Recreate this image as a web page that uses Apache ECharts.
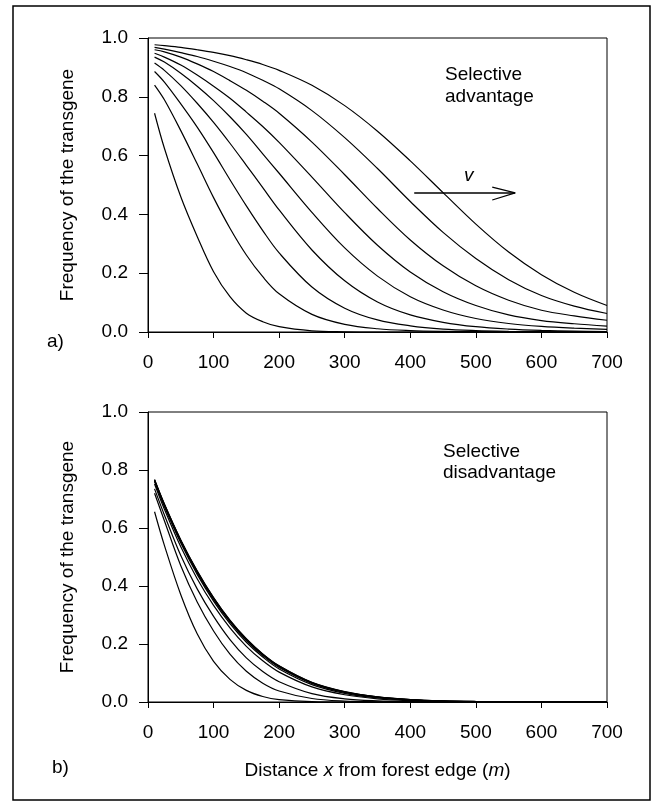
<!DOCTYPE html>
<html>
<head>
<meta charset="utf-8">
<script src="https://cdn.jsdelivr.net/npm/echarts@6/dist/echarts.min.js"></script>
<style>
html,body{margin:0;padding:0;background:#fff;}
#chart{width:654px;height:807px;}
</style>
</head>
<body>
<div id="chart"></div>
<script>
// Distance samples (m)
const distances = [10,25,50,75,100,125,150,175,200,250,300,350,400,450,500,550,600,650,700];
const xTicks = [0,100,200,300,400,500,600,700];
const yTicks = [0.0,0.2,0.4,0.6,0.8,1.0];

// a) Selective advantage – transgene frequency profiles (earliest to latest)
const advI = [0.744,0.625,0.460,0.325,0.205,0.120,0.064,0.035,0.018,0.004,0.0008,0,0,0,0,0,0,0,0];
const advH = [0.840,0.790,0.685,0.572,0.457,0.353,0.262,0.188,0.130,0.060,0.026,0.011,0.0047,0.002,0.001,0.0004,0.0002,0.0001,0];
const advG = [0.886,0.850,0.776,0.697,0.610,0.518,0.429,0.345,0.269,0.153,0.081,0.041,0.021,0.010,0.005,0.0025,0.0012,0.0006,0.0003];
const advF = [0.915,0.890,0.838,0.778,0.713,0.642,0.567,0.491,0.415,0.279,0.174,0.102,0.058,0.033,0.018,0.010,0.0055,0.003,0.0016];
const advE = [0.935,0.918,0.880,0.836,0.787,0.732,0.672,0.606,0.540,0.407,0.286,0.190,0.120,0.075,0.046,0.029,0.019,0.013,0.009];
const advD = [0.948,0.935,0.908,0.874,0.836,0.795,0.748,0.699,0.645,0.527,0.406,0.295,0.204,0.137,0.090,0.058,0.039,0.028,0.020];
const advC = [0.960,0.953,0.935,0.912,0.886,0.855,0.822,0.785,0.744,0.646,0.535,0.420,0.313,0.225,0.157,0.108,0.074,0.055,0.040];
const advB = [0.968,0.962,0.950,0.937,0.921,0.903,0.882,0.856,0.827,0.753,0.661,0.556,0.444,0.339,0.250,0.178,0.124,0.088,0.063];
const advA = [0.977,0.974,0.968,0.960,0.951,0.940,0.926,0.910,0.890,0.839,0.770,0.683,0.582,0.474,0.367,0.272,0.195,0.135,0.090];

// b) Selective disadvantage – transgene frequency profiles (earliest to latest)
const disB1 = [0.656,0.540,0.370,0.235,0.140,0.078,0.040,0.019,0.008,0.001,0,0,0,0,0,0,0,0,0];
const disB2 = [0.720,0.625,0.470,0.345,0.245,0.165,0.106,0.065,0.038,0.012,0.003,0.0008,0,0,0,0,0,0,0];
const disB3 = [0.735,0.645,0.505,0.390,0.295,0.215,0.152,0.105,0.070,0.029,0.011,0.004,0.0012,0,0,0,0,0,0];
const disB4 = [0.752,0.665,0.535,0.425,0.333,0.256,0.192,0.142,0.103,0.052,0.025,0.011,0.0045,0.0015,0.0005,0,0,0,0];
const disB5 = [0.760,0.674,0.548,0.440,0.348,0.270,0.206,0.155,0.114,0.060,0.030,0.014,0.006,0.0025,0.001,0.0004,0.0001,0,0];
const disB6 = [0.763,0.678,0.553,0.446,0.354,0.276,0.212,0.160,0.119,0.064,0.033,0.016,0.0075,0.0033,0.0014,0.0006,0.0002,0.0001,0];
const disB7 = [0.765,0.680,0.556,0.449,0.357,0.279,0.215,0.163,0.122,0.066,0.034,0.017,0.008,0.0036,0.0016,0.0007,0.0003,0.0001,0];
const disB8 = [0.766,0.682,0.558,0.451,0.359,0.281,0.217,0.165,0.124,0.067,0.035,0.0175,0.0083,0.0038,0.0017,0.0007,0.0003,0.0001,0];
const disB9 = [0.767,0.683,0.559,0.452,0.360,0.282,0.218,0.166,0.125,0.068,0.036,0.018,0.0085,0.004,0.0018,0.0008,0.0003,0.0001,0];

// Arrow "v" annotation in panel a (data coordinates)
const arrowShaft = [[406,0.473],[560,0.473]];
const arrowHead = [[525,0.493],[560,0.473],[525,0.449]];

const advCurves = [advI,advH,advG,advF,advE,advD,advC,advB,advA];
const disCurves = [disB1,disB2,disB3,disB4,disB5,disB6,disB7,disB8,disB9];

const FONT = '"Liberation Sans", Arial, Helvetica, sans-serif';
const chart = echarts.init(document.getElementById('chart'), null, {renderer:'canvas'});

function xAxisCfg(idx, withName){
  const c = {
    type:'value', gridIndex: idx, min: xTicks[0], max: xTicks[xTicks.length-1], interval: 100,
    axisLine:{show:true, onZero:false, lineStyle:{color:'#000', width:1}},
    axisTick:{show:true, inside:false, length:6, lineStyle:{color:'#000'}},
    axisLabel:{color:'#000', fontSize:19, fontFamily:FONT, margin:21},
    splitLine:{show:false}
  };
  if(withName){
    c.name = 'Distance {i|x} from forest edge ({i|m})';
    c.nameLocation = 'middle';
    c.nameGap = 59;
    c.nameTextStyle = {color:'#000', fontSize:19, fontFamily:FONT,
      rich:{i:{fontStyle:'italic', fontSize:19, fontFamily:FONT, color:'#000'}}};
  }
  return c;
}
function yAxisCfg(idx){
  return {
    type:'value', gridIndex: idx, min: yTicks[0], max: yTicks[yTicks.length-1], interval: 0.2,
    name:'Frequency of the transgene', nameLocation:'middle', nameGap:71,
    nameTextStyle:{color:'#000', fontSize:19, fontFamily:FONT},
    axisLine:{show:true, onZero:false, lineStyle:{color:'#000', width:1}},
    axisTick:{show:true, inside:false, length:9, lineStyle:{color:'#000'}},
    axisLabel:{color:'#000', fontSize:19, fontFamily:FONT, margin:20, formatter:v=>v.toFixed(1)},
    splitLine:{show:false}
  };
}

const series = [];
advCurves.forEach(arr=>{
  series.push({type:'line', xAxisIndex:0, yAxisIndex:0, data: distances.map((d,i)=>[d,arr[i]]),
    smooth:0.35, showSymbol:false, lineStyle:{color:'#000', width:1.2}, silent:true});
});
disCurves.forEach(arr=>{
  series.push({type:'line', xAxisIndex:1, yAxisIndex:1, data: distances.map((d,i)=>[d,arr[i]]),
    smooth:0.35, showSymbol:false, lineStyle:{color:'#000', width:1.2}, silent:true});
});
series.push({type:'line', xAxisIndex:0, yAxisIndex:0, data: arrowShaft, showSymbol:false,
  lineStyle:{color:'#000', width:1.5}, silent:true});
series.push({type:'line', xAxisIndex:0, yAxisIndex:0, data: arrowHead, showSymbol:false,
  lineStyle:{color:'#000', width:1.2}, silent:true});

chart.setOption({
  animation:false,
  backgroundColor:'#fff',
  grid:[
    {left:148, top:38, width:459, height:294, show:true, borderColor:'#000', borderWidth:1, backgroundColor:'transparent'},
    {left:148, top:412, width:459, height:290, show:true, borderColor:'#000', borderWidth:1, backgroundColor:'transparent'}
  ],
  xAxis:[xAxisCfg(0,false), xAxisCfg(1,true)],
  yAxis:[yAxisCfg(0), yAxisCfg(1)],
  series: series,
  graphic:[
    {type:'rect', shape:{x:13, y:6, width:637, height:794}, style:{fill:'none', stroke:'#000', lineWidth:1.5}, silent:true},
    {type:'text', left:445, top:64, style:{text:'Selective\nadvantage', fill:'#000', fontSize:19, fontFamily:FONT, lineHeight:22}},
    {type:'text', left:443, top:441, style:{text:'Selective\ndisadvantage', fill:'#000', fontSize:19, fontFamily:FONT, lineHeight:21}},
    {type:'text', left:464, top:166, style:{text:'v', fill:'#000', fontSize:19, fontStyle:'italic', fontFamily:FONT}},
    {type:'text', left:47, top:332, style:{text:'a)', fill:'#000', fontSize:19, fontFamily:FONT}},
    {type:'text', left:52, top:758, style:{text:'b)', fill:'#000', fontSize:19, fontFamily:FONT}}
  ]
});
</script>
</body>
</html>
